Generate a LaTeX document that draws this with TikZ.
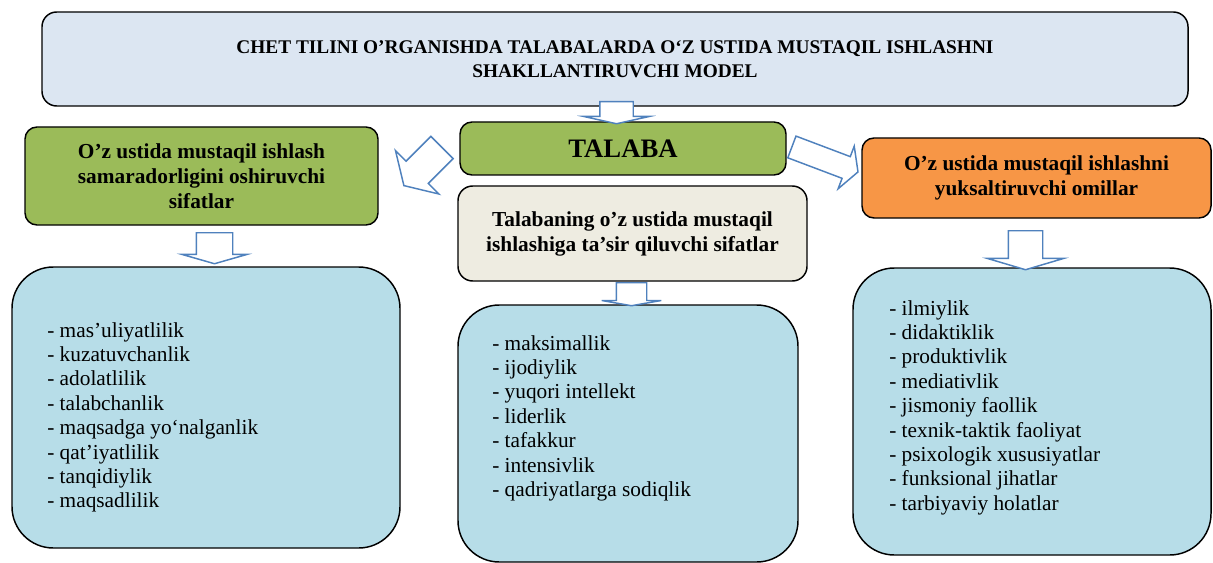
\documentclass[tikz,border=0pt]{standalone}
\usepackage{fontspec}
\setmainfont{Liberation Serif}
\usetikzlibrary{shapes.arrows,positioning}
\usepackage{xcolor}
\definecolor{titlefill}{HTML}{DCE6F2}
\definecolor{greenfill}{HTML}{9BBB59}
\definecolor{beigefill}{HTML}{EEECE1}
\definecolor{orangefill}{HTML}{F79646}
\definecolor{listfill}{HTML}{B7DDE8}
\definecolor{arrowblue}{HTML}{4F81BD}

\begin{document}
\begin{tikzpicture}[x=0.75pt, y=-0.75pt,
	box/.style = {draw, rectangle, rounded corners=9pt, line width=1.1pt, align=center, inner sep=0pt, font=\bfseries\fontsize{16}{18.75}\selectfont},
	listbox/.style = {draw, rectangle, rounded corners=31pt, line width=1.1pt, fill=listfill},
	items/.style = {align=left, anchor=north west, inner sep=0pt, font=\fontsize{16}{18.3}\selectfont},
	blk/.style = {single arrow, draw=arrowblue, fill=white, line width=1.1pt, inner sep=0pt, minimum width=0pt, text depth=0pt, anchor=tail}]
	\useasboundingbox (0,0) rectangle (1213,563);
	% header boxes
	\node[box, fill=titlefill, rounded corners=11pt, minimum width=859.5pt, minimum height=70.5pt, font=\bfseries\fontsize{14.5}{18}\selectfont] (title) at (615,59) {CHET TILINI O’RGANISHDA TALABALARDA O‘Z USTIDA MUSTAQIL ISHLASHNI\\SHAKLLANTIRUVCHI MODEL};
	\node[box, fill=greenfill, minimum width=244.5pt, minimum height=39.75pt, font=\bfseries\fontsize{20}{24}\selectfont] (talaba) at (623,148.5) {TALABA};
	\node[box, fill=greenfill, minimum width=264.75pt, minimum height=73.5pt] (quals) at (201.5,176) {O’z ustida mustaqil ishlash\\samaradorligini oshiruvchi\\sifatlar};
	\node[box, fill=beigefill, rounded corners=11pt, minimum width=261.75pt, minimum height=71.25pt] (impact) at (632.5,233.5) {Talabaning o’z ustida mustaqil\\ishlashiga ta’sir qiluvchi sifatlar};
	\node[box, fill=orangefill, minimum width=261.75pt, minimum height=60pt] (factors) at (1036.5,178) {O’z ustida mustaqil ishlashni\\yuksaltiruvchi omillar};
	% list boxes
	\node[listbox, minimum width=291pt, minimum height=210.75pt] (qualslist) at (206,407.5) {};
	\node[listbox, minimum width=255pt, minimum height=192.75pt] (impactlist) at (628,433.5) {};
	\node[listbox, minimum width=268.5pt, minimum height=215.25pt] (factorslist) at (1032,411.5) {};
	\node[items] (qualsitems) at (47,322) {- mas’uliyatlilik\\- kuzatuvchanlik\\- adolatlilik\\- talabchanlik\\- maqsadga yo‘nalganlik\\- qat’iyatlilik\\- tanqidiylik\\- maqsadlilik};
	\node[items] (impactitems) at (492,335) {- maksimallik\\- ijodiylik\\- yuqori intellekt\\- liderlik\\- tafakkur\\- intensivlik\\- qadriyatlarga sodiqlik};
	\node[items] (factorsitems) at (889,300) {- ilmiylik\\- didaktiklik\\- produktivlik\\- mediativlik\\- jismoniy faollik\\- texnik-taktik faoliyat\\- psixologik xususiyatlar\\- funksional jihatlar\\- tarbiyaviy holatlar};
	% block arrows
	\node[blk, rotate=-90, text height=24pt, single arrow head extend=12pt, minimum height=16.5pt, single arrow tip angle=155] (arrtop) at (616.5,101) {};
	\node[blk, rotate=-135, text height=22.5pt, single arrow head extend=11.25pt, minimum height=40.4pt, single arrow tip angle=117] (arrleft) at (442.5,147) {};
	\node[blk, rotate=-20.7, text height=16.3pt, single arrow head extend=8.4pt, minimum height=53pt, single arrow tip angle=122] (arrright) at (791.2,146.7) {};
	\node[blk, rotate=-90, text height=26.25pt, single arrow head extend=10.9pt, minimum height=23.25pt, single arrow tip angle=148] (arrquals) at (214.5,232) {};
	\node[blk, rotate=-90, text height=21.75pt, single arrow head extend=10.9pt, minimum height=17.25pt, single arrow tip angle=160] (arrimpact) at (631.5,282) {};
	\node[blk, rotate=-90, text height=24.75pt, single arrow head extend=15.75pt, minimum height=29.25pt, single arrow tip angle=147] (arrfactors) at (1025.5,230) {};
\end{tikzpicture}
\end{document}
